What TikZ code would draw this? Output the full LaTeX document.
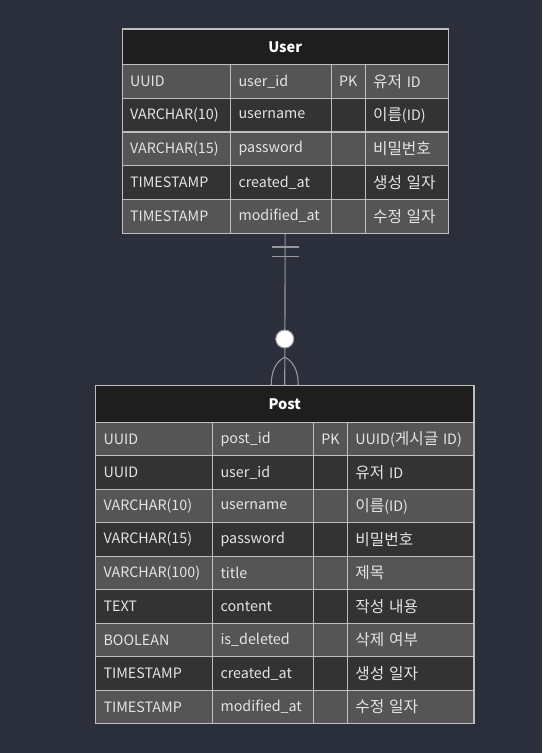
\documentclass[tikz,border=0pt]{standalone}
\usepackage{fontspec}
\setmainfont{Noto Sans CJK KR}
\newfontfamily\krfont[Scale=1.1]{Noto Sans CJK KR}
\usetikzlibrary{calc}
\definecolor{bg}{RGB}{42,47,59}
\definecolor{titlebg}{RGB}{30,30,30}
\definecolor{rowlight}{RGB}{85,85,85}
\definecolor{rowdark}{RGB}{51,51,51}
\definecolor{grid}{RGB}{190,190,190}
\definecolor{txt}{RGB}{228,228,228}
\definecolor{link}{RGB}{150,152,158}
\tikzset{
  cellbase/.style={draw=grid, line width=1.1pt, anchor=north west, inner ysep=0pt, text=txt,
    font=\fontsize{14.3}{16}\selectfont},
  cell/.style={cellbase, inner xsep=8pt, align=left},
  pkcell/.style={cellbase, inner xsep=1pt, align=center},
  titlecell/.style={draw=grid, line width=1.1pt, fill=titlebg, anchor=north west, inner sep=0pt,
    text=white, font=\fontsize{14.5}{17}\selectfont\bfseries},
  frame/.style={draw=grid, line width=1.2pt, anchor=north west, inner sep=0pt},
  link/.style={draw=link, line width=1.1pt},
  zerocirc/.style={circle, draw=link, line width=1pt, fill=white, minimum size=18pt, inner sep=0pt}
}
\begin{document}
\begin{tikzpicture}[x=1pt,y=-1pt]
\useasboundingbox[fill=bg] (0,0) rectangle (542,753);

% ---------- User table ----------
\def\colA{121.5}\def\colB{230}\def\colC{331}\def\colD{364.5}\def\colE{447.7}
\def\tabtop{28.3}\def\tabth{35.7}\def\tabrh{33.7}
\pgfmathsetmacro\cwA{\colB-\colA}\pgfmathsetmacro\cwB{\colC-\colB}
\pgfmathsetmacro\cwC{\colD-\colC}\pgfmathsetmacro\cwD{\colE-\colD}
\pgfmathsetmacro\cwAll{\colE-\colA}
\node[titlecell, minimum width=\cwAll pt, minimum height=\tabth pt] (user-title) at (\colA,\tabtop) {User};
\foreach \i/\a/\b/\c/\d in {
  1/UUID/user\_id/PK/{\krfont 유저} ID,
  2/VARCHAR(10)/username//{\krfont 이름}(ID),
  3/VARCHAR(15)/password//{\krfont 비밀번호},
  4/TIMESTAMP/created\_at//{\krfont 생성 일자},
  5/TIMESTAMP/modified\_at//{\krfont 수정 일자}}{
  \ifodd\i\def\rf{rowlight}\else\def\rf{rowdark}\fi
  \pgfmathsetmacro\ry{\tabtop+\tabth+(\i-1)*\tabrh}
  \node[cell, fill=\rf, text width=\cwA pt-16pt, minimum height=\tabrh pt] (user-\i-1) at (\colA,\ry) {\a};
  \node[cell, fill=\rf, text width=\cwB pt-16pt, minimum height=\tabrh pt] (user-\i-2) at (\colB,\ry) {\b};
  \node[pkcell, fill=\rf, text width=\cwC pt-2pt, minimum height=\tabrh pt] (user-\i-3) at (\colC,\ry) {\c};
  \node[cell, fill=\rf, text width=\cwD pt-16pt, minimum height=\tabrh pt] (user-\i-4) at (\colD,\ry) {\d};
}
\pgfmathsetmacro\hall{\tabth+5*\tabrh}
\node[frame, minimum width=\cwAll pt, minimum height=\hall pt] (user) at (\colA,\tabtop) {};

% ---------- Post table ----------
\def\colA{95}\def\colB{212}\def\colC{312.7}\def\colD{347.3}\def\colE{473.3}
\def\tabtop{385}\def\tabth{36.7}\def\tabrh{33.5}
\pgfmathsetmacro\cwA{\colB-\colA}\pgfmathsetmacro\cwB{\colC-\colB}
\pgfmathsetmacro\cwC{\colD-\colC}\pgfmathsetmacro\cwD{\colE-\colD}
\pgfmathsetmacro\cwAll{\colE-\colA}
\node[titlecell, minimum width=\cwAll pt, minimum height=\tabth pt] (post-title) at (\colA,\tabtop) {Post};
\foreach \i/\a/\b/\c/\d in {
  1/UUID/post\_id/PK/\mbox{UUID({\krfont 게시글} ID)},
  2/UUID/user\_id//{\krfont 유저} ID,
  3/VARCHAR(10)/username//{\krfont 이름}(ID),
  4/VARCHAR(15)/password//{\krfont 비밀번호},
  5/VARCHAR(100)/title//{\krfont 제목},
  6/TEXT/content//{\krfont 작성 내용},
  7/BOOLEAN/is\_deleted//{\krfont 삭제 여부},
  8/TIMESTAMP/created\_at//{\krfont 생성 일자},
  9/TIMESTAMP/modified\_at//{\krfont 수정 일자}}{
  \ifodd\i\def\rf{rowlight}\else\def\rf{rowdark}\fi
  \pgfmathsetmacro\ry{\tabtop+\tabth+(\i-1)*\tabrh}
  \node[cell, fill=\rf, text width=\cwA pt-16pt, minimum height=\tabrh pt] (post-\i-1) at (\colA,\ry) {\a};
  \node[cell, fill=\rf, text width=\cwB pt-16pt, minimum height=\tabrh pt] (post-\i-2) at (\colB,\ry) {\b};
  \node[pkcell, fill=\rf, text width=\cwC pt-2pt, minimum height=\tabrh pt] (post-\i-3) at (\colC,\ry) {\c};
  \node[cell, fill=\rf, inner xsep=7.5pt, text width=\cwD pt-15pt, minimum height=\tabrh pt] (post-\i-4) at (\colD,\ry) {\d};
}
\pgfmathsetmacro\hall{\tabth+9*\tabrh}
\node[frame, minimum width=\cwAll pt, minimum height=\hall pt] (post) at (\colA,\tabtop) {};

% ---------- relationship ----------
\draw[link] (user.south) -- (post.north);
\draw[link] ($(user.south)+(-13.5,13.3)$) -- ($(user.south)+(13.5,13.3)$);
\draw[link] ($(user.south)+(-13.5,22.6)$) -- ($(user.south)+(13.5,22.6)$);
\coordinate (fork) at ($(post.north)+(0,-28)$);
\coordinate (footl) at ($(post.north)+(-13.5,0)$);
\coordinate (footr) at ($(post.north)+(13.5,0)$);
\draw[link] (fork) .. controls ($(fork)+(-9,5)$) and ($(footl)+(0,-14)$) .. (footl);
\draw[link] (fork) .. controls ($(fork)+(9,5)$) and ($(footr)+(0,-14)$) .. (footr);
\node[zerocirc] (zero) at ($(post.north)+(0,-46)$) {};
\end{tikzpicture}
\end{document}
